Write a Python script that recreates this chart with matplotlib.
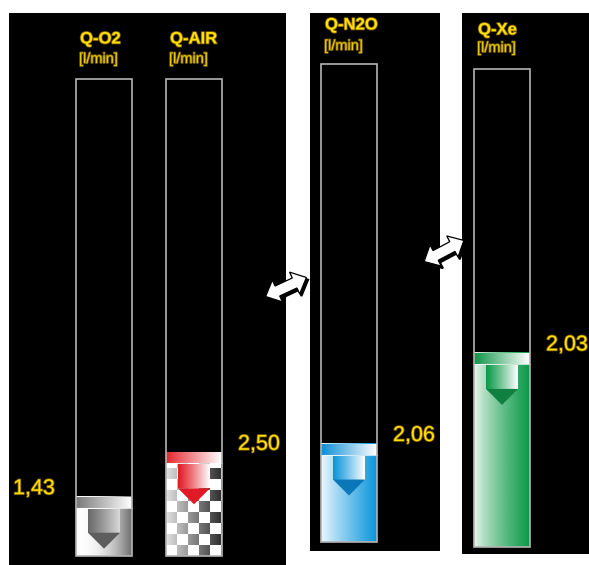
import numpy as np
import matplotlib
matplotlib.use("Agg")
import matplotlib.pyplot as plt
from matplotlib.patches import Rectangle, Polygon
from matplotlib.colors import to_rgb
import matplotlib.patheffects as pe

plt.rcParams['font.family'] = ['Liberation Sans Narrow', 'Liberation Sans', 'DejaVu Sans']

# Flow meters: name, current flow, full-scale of each tube
gases = ["Q-O2", "Q-AIR", "Q-N2O", "Q-Xe"]
flows = [1.43, 2.50, 2.06, 2.03]
scale_max = [11.5, 11.5, 10.0, 5.0]
unit = "[l/min]"

# Tube layout (pixel canvas)
tube_left = [76, 166, 321, 474]
tube_top = [79, 79, 64, 69]
tube_bottom = [556, 556, 542, 547]
tube_w = 56
title_y = [39, 39, 25, 30]
unit_y = [59, 59, 46, 48]
label_side = ["left", "right", "right", "right"]
styles = ["gray", "checker", "blue", "green"]

colors = {
    "gray": ("#6a6a6a", "#7a7a7a", "#5e5e5e"),
    "checker": ("#e31b23", "#e6262e", "#e11b25"),
    "blue": ("#0a96dc", "#0a8ed6", "#0a78b8"),
    "green": ("#0a9a48", "#0e9548", "#108040"),
}

W, H = 589, 565
fig = plt.figure(figsize=(W / 100, H / 100), dpi=100, facecolor="white")
ax = fig.add_axes([0, 0, 1, 1])
ax.set_xlim(0, W)
ax.set_ylim(H, 0)
ax.axis("off")

# Black instrument panels
for (x0, x1, y0, y1) in [(9, 286, 13, 565), (310, 440, 13, 551), (462, 589, 13, 554)]:
    ax.add_patch(Rectangle((x0, y0), x1 - x0, y1 - y0, facecolor="black",
                           edgecolor="none", zorder=0))


def hgrad(c_left, c_right, n=64, power=1.0, height=2):
    t = np.linspace(0, 1, n) ** power
    a = np.array(to_rgb(c_left))
    b = np.array(to_rgb(c_right))
    row = a[None, :] * (1 - t[:, None]) + b[None, :] * t[:, None]
    return np.repeat(row[None, :, :], height, axis=0)


def put(img, x0, x1, y0, y1, z):
    ax.imshow(img, extent=[x0, x1, y1, y0], aspect="auto",
              interpolation="bilinear", zorder=z, origin="upper")


def double_arrow(cx, cy, ang):
    L, h, hl, hw = 45, 5.5, 13, 12
    pts = np.array([(-L / 2, 0), (-L / 2 + hl, hw), (-L / 2 + hl, h), (L / 2 - hl, h),
                    (L / 2 - hl, hw), (L / 2, 0), (L / 2 - hl, -hw), (L / 2 - hl, -h),
                    (-L / 2 + hl, -h), (-L / 2 + hl, -hw)])
    a = np.deg2rad(ang)
    R = np.array([[np.cos(a), np.sin(a)], [-np.sin(a), np.cos(a)]])
    p = pts @ R.T + np.array([cx, cy])
    ax.add_patch(Polygon(p + np.array([1.8, 2.2]), closed=True, facecolor="black",
                         edgecolor="black", lw=1.4, zorder=8))
    ax.add_patch(Polygon(p, closed=True, facecolor="white", edgecolor="black",
                         lw=0.9, zorder=9))


yellow = "#ffe000"
outline = [pe.withStroke(linewidth=1.2, foreground="#7a5a00")]

for i, name in enumerate(gases):
    x0 = tube_left[i]
    x1 = x0 + tube_w
    top, bot = tube_top[i], tube_bottom[i]
    frac = flows[i] / scale_max[i]
    level = bot - frac * (bot - top)
    main, band_c, tri_c = colors[styles[i]]

    # Tube fill below the level
    fill_top = level
    if styles[i] == "checker":
        hgt = int(round(bot - fill_top))
        sq = 11
        xs = np.arange(tube_w)
        ys = np.arange(hgt)[::-1]
        cx = (xs // sq)[None, :]
        cy = (ys // sq)[:, None]
        dark = ((cx + cy) % 2 == 1)
        shade = 0.88 - 0.7 * (xs / (tube_w - 1))
        img = np.ones((hgt, tube_w, 3))
        img[dark] = np.repeat(shade[None, :], hgt, axis=0)[dark][:, None]
        ax.imshow(img, extent=[x0, x1, bot, fill_top], aspect="auto",
                  interpolation="nearest", zorder=2)
    elif styles[i] == "gray":
        put(hgrad("#ffffff", "#6e6e6e", power=2.2), x0, x1, fill_top, bot, 2)
    elif styles[i] == "blue":
        put(hgrad("#eef8fe", main, power=0.9), x0, x1, fill_top, bot, 2)
    else:
        put(hgrad("#f0f8f2", main, power=0.75), x0, x1, fill_top, bot, 2)

    # Level band
    band_h = 11
    put(hgrad(band_c, "#ffffff", power=1.0), x0, x1, level, level + band_h, 3)
    ax.plot([x0, x1], [level + band_h, level + band_h], color="white", lw=0.8,
            alpha=0.7, zorder=3.5)

    # Float pointer
    pcx = x0 + tube_w / 2
    pw, ph, th = 32, 24, 16
    py = level + band_h + 1
    put(hgrad(main, "#d8d8d8" if styles[i] == "gray" else "#ffffff", power=1.1),
        pcx - pw / 2, pcx + pw / 2, py, py + ph, 4)
    ax.add_patch(Polygon([(pcx - pw / 2, py + ph), (pcx + pw / 2, py + ph),
                          (pcx, py + ph + th)], closed=True, facecolor=tri_c,
                         edgecolor="none", zorder=4))

    # Tube outline
    ax.add_patch(Rectangle((x0, top), tube_w, bot - top, facecolor="none",
                           edgecolor="#b4b4b4", lw=1.2, zorder=6))

    # Titles and units
    ax.text(x0 + 4, title_y[i], name, color=yellow, fontsize=12, fontweight="bold",
            ha="left", va="center", zorder=7, path_effects=outline)
    ax.text(x0 + 3, unit_y[i], unit, color="#e6cc00", fontsize=10.5,
            ha="left", va="center", zorder=7, path_effects=outline)

    # Value readout
    txt = f"{flows[i]:.2f}".replace(".", ",")
    if label_side[i] == "left":
        ax.text(13, level - 8, txt, color=yellow, fontsize=15.5, ha="left",
                va="center", zorder=7, path_effects=outline)
    else:
        ax.text(x1 + 16, level - 8, txt, color=yellow, fontsize=15.5, ha="left",
                va="center", zorder=7, path_effects=outline)

# Swap arrows between the panels
double_arrow(286, 287, 25)
double_arrow(444, 251, 28)

fig.savefig("out.png", dpi=100, facecolor="white")
